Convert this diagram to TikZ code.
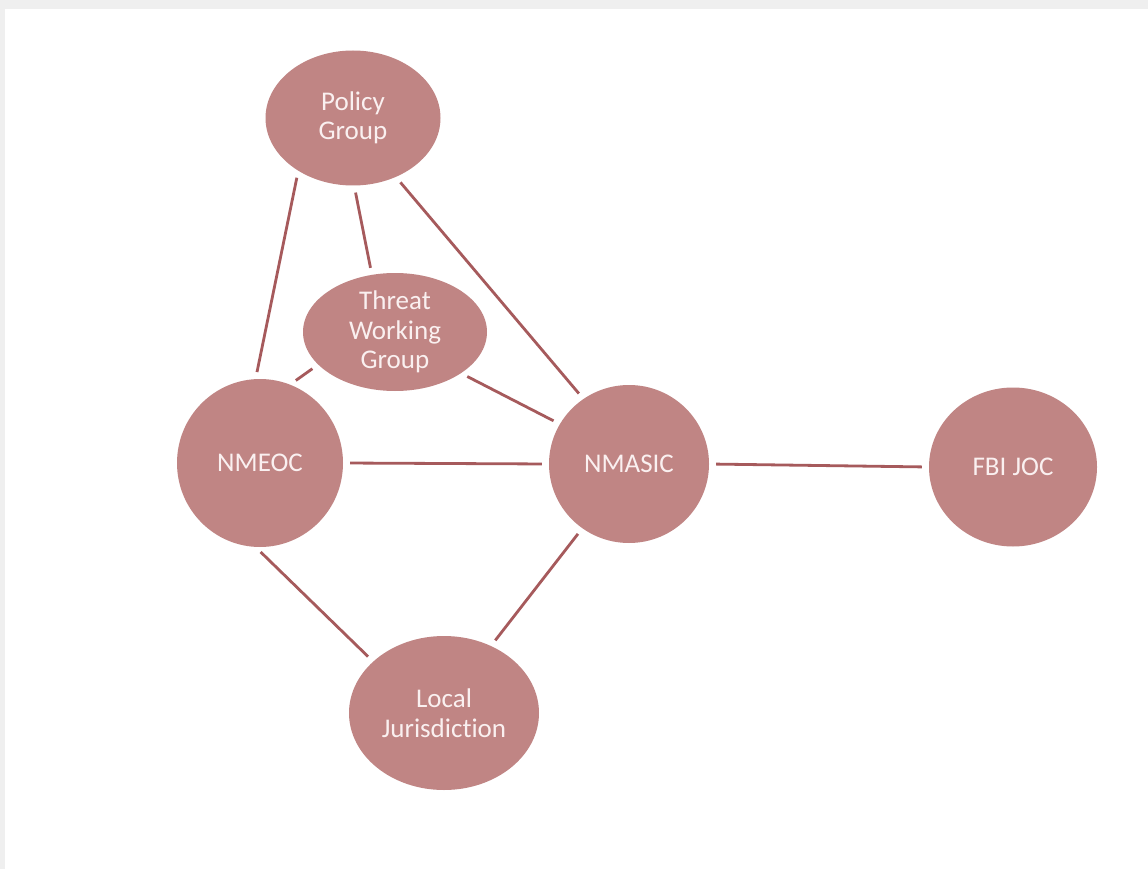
\documentclass[tikz,border=0pt]{standalone}
\usepackage{fontspec}
\setmainfont{Carlito}[Ligatures=NoCommon]
\usetikzlibrary{shapes.geometric}
\definecolor{agencyfill}{HTML}{C08584}
\definecolor{agencyline}{HTML}{A65A5C}
\definecolor{agencytext}{HTML}{FAF0F0}
\definecolor{framegray}{HTML}{EFEFEF}

\begin{document}
\begin{tikzpicture}[
  x=1pt, y=-1pt,
  agency/.style={ellipse, fill=agencyfill, inner sep=0pt, text=agencytext, align=center,
    font=\fontsize{27}{29.5}\selectfont},
  link/.style={draw=agencyline, line width=2.8pt, shorten <=7pt, shorten >=7pt}
]
\useasboundingbox (0,0) rectangle (1148,869);
\fill[framegray] (0,0) rectangle (1148,869);
\fill[white] (5,9) rectangle (1148,869);

\node[agency, minimum width=175pt, minimum height=135pt] (policy) at (353,118) {Policy\\Group};
\node[agency, minimum width=184pt, minimum height=118pt] (threat) at (395,332) {Threat\\Working\\Group};
\node[agency, minimum width=166pt, minimum height=168pt] (nmeoc) at (260,463) {NMEOC};
\node[agency, minimum width=160pt, minimum height=158pt] (nmasic) at (629,464) {NMASIC};
\node[agency, minimum width=168pt, minimum height=159pt] (fbijoc) at (1013,467) {FBI JOC};
\node[agency, minimum width=190pt, minimum height=154pt] (local) at (444,713) {Local\\Jurisdiction};

\draw[link] (policy.224) -- (nmeoc.93);
\draw[link] (policy.271) -- (threat.112);
\draw[link] (policy.306) -- (nmasic.125);
\draw[link] (threat.203) -- (nmeoc.69);
\draw[link] (threat.328) -- (nmasic.150);
\draw[link] (nmeoc.0) -- (nmasic.180);
\draw[link] (nmasic.0) -- (fbijoc.180);
\draw[link] (nmeoc.267) -- (local.144);
\draw[link] (nmasic.234) -- (local.55);
\end{tikzpicture}
\end{document}
